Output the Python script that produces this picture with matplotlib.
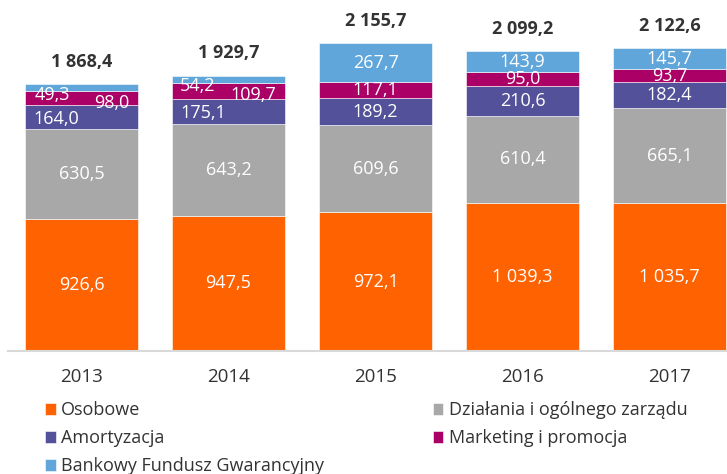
import numpy as np
import matplotlib.pyplot as plt

plt.rcParams['font.family'] = ['Open Sans', 'DejaVu Sans']

years = ['2013', '2014', '2015', '2016', '2017']
osobowe = [926.6, 947.5, 972.1, 1039.3, 1035.7]
dzialania = [630.5, 643.2, 609.6, 610.4, 665.1]
amortyzacja = [164.0, 175.1, 189.2, 210.6, 182.4]
marketing = [98.0, 109.7, 117.1, 95.0, 93.7]
bfg = [49.3, 54.2, 267.7, 143.9, 145.7]

series_names = ['Osobowe', 'Działania i ogólnego zarządu', 'Amortyzacja',
                'Marketing i promocja', 'Bankowy Fundusz Gwarancyjny']
colors = ['#FF6200', '#A8A8A8', '#525199', '#AB0066', '#60A6DA']

def fmt(v):
    # polski format: spacja jako separator tysiecy, przecinek dziesietny
    s = f"{v:,.1f}".replace(',', ' ').replace('.', ',')
    return s

# przesuniecia etykiet (pkt) dla malych segmentow w 2013 i 2014
offsets = {
    (0, 2): (-18, -1), (0, 3): (22, -3), (0, 4): (-21, -5),
    (1, 2): (-18, -1), (1, 3): (18, -3), (1, 4): (-22, -5),
}

fig = plt.figure(figsize=(7.27, 4.74), dpi=100)
ax = fig.add_axes([8 / 727, 123 / 474, 719 / 727, 351 / 474])

x = np.arange(len(years))
data = [osobowe, dzialania, amortyzacja, marketing, bfg]
bottom = np.zeros(len(years))
for s, (vals, col) in enumerate(zip(data, colors)):
    vals = np.array(vals)
    ax.bar(x, vals, 0.77, bottom=bottom, color=col, edgecolor='white',
           linewidth=0.4, label=series_names[s])
    for i in range(len(years)):
        dx, dy = offsets.get((i, s), (0, 0))
        ax.annotate(fmt(vals[i]), (x[i], bottom[i] + vals[i] / 2),
                    xytext=(dx, dy), textcoords='offset points',
                    ha='center', va='center', color='white', fontsize=13)
    bottom += vals

for i in range(len(years)):
    ax.annotate(fmt(bottom[i]), (x[i], bottom[i]), xytext=(0, 16),
                textcoords='offset points', ha='center', va='center',
                fontsize=13, fontweight='bold', color='#333333')

ax.set_xlim(-0.5, 4.39)
ax.set_ylim(0, 2460)
ax.set_yticks([])
ax.set_xticks(x)
ax.set_xticklabels(years, fontsize=13.5, color='#333333')
ax.tick_params(axis='x', length=0, pad=12)
for sp in ['top', 'right', 'left']:
    ax.spines[sp].set_visible(False)
ax.spines['bottom'].set_color('#D9D9D9')
ax.spines['bottom'].set_linewidth(1.5)

handles, labels = ax.get_legend_handles_labels()
order = [0, 2, 4, 1, 3]
leg = fig.legend([handles[k] for k in order], [labels[k] for k in order],
                 ncol=2, loc='upper left', bbox_to_anchor=(0.062, 0.153),
                 frameon=False, fontsize=13, handlelength=0.6, handleheight=0.6,
                 handletextpad=0.3, columnspacing=6.0, labelspacing=0.55,
                 borderaxespad=0, borderpad=0, labelcolor='#333333')

fig.savefig('out.png', dpi=100)
